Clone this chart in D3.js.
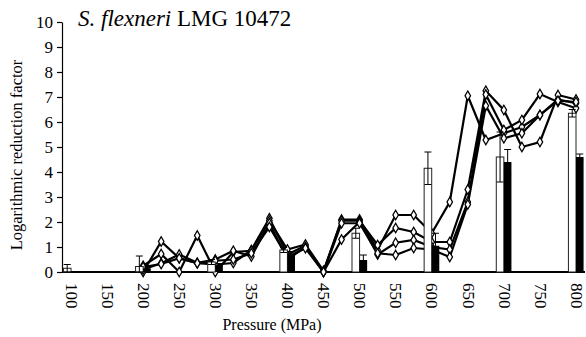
<!DOCTYPE html>
<meta charset="utf-8">
<script src="https://cdn.jsdelivr.net/npm/d3@7"></script>
<body style="margin:0;background:#fff">
<div id="graph"></div>
<script>
    // bar data (pressure, MPa)
    const barPressures = [100, 200, 300, 400, 500, 600, 700, 800];
    const whiteBars = [0.15, 0.22, 0.4, 0.88, 1.55, 4.15, 4.6, 6.35];
    const whiteErr = [0.15, 0.42, 0.1, 0.1, 0.2, 0.65, 1.0, 0.15];
    const blackBars = [0.03, 0.15, 0.28, 0.72, 0.48, 1.05, 4.4, 4.6];
    const blackErr = [0, 0.05, 0.05, 0.1, 0.2, 0.5, 0.5, 0.12];

    // line data
    const linePressures = [200, 225, 250, 275, 300, 325, 350, 375, 400, 425, 450, 475, 500,
        525, 550, 575, 600, 625, 650, 675, 700, 725, 750, 775, 800];
    const series1 = [0.0, 1.22, 0.55, 0.35, 0.3, 0.36, 0.88, 2.15, 0.7, 1.05, 0.0, 2.1, 2.1,
        0.88, 2.28, 2.28, 1.55, 2.8, 7.05, 5.28, 5.55, 5.8, 6.28, 6.9, 6.75];
    const series2 = [0.25, 0.72, 0.0, 1.46, 0.0, 0.8, 0.85, 2.05, 0.9, 1.1, 0.05, 2.05, 2.05,
        1.08, 1.76, 1.6, 1.2, 1.2, 3.3, 7.25, 6.48, 5.0, 5.2, 7.08, 6.9];
    const series3 = [0.1, 0.35, 0.7, 0.37, 0.5, 0.85, 0.62, 1.95, 0.5, 1.0, 0.0, 1.3, 2.0,
        0.7, 1.17, 1.28, 1.0, 0.9, 2.8, 7.1, 5.68, 6.08, 7.12, 6.8, 6.55];
    const series4 = [0.2, 0.32, 0.55, 0.35, 0.45, 0.5, 0.75, 1.8, 0.6, 0.95, 0.0, 1.95, 1.95,
        0.75, 0.68, 0.96, 0.9, 0.6, 2.7, 6.65, 5.35, 5.55, 6.28, 6.85, 6.8];

    const xTicks = [100, 150, 200, 250, 300, 350, 400, 450, 500, 550, 600, 650, 700, 750, 800];
    const yTicks = [0, 1, 2, 3, 4, 5, 6, 7, 8, 9, 10];

    const serif = "Times New Roman";
    const svg = d3.select("#graph").append("svg")
        .attr("width", 586)
        .attr("height", 337);

    const x = d3.scaleLinear().domain([100, 800]).range([71, 576]);
    const y = d3.scaleLinear().domain([0, 10]).range([272, 22]);
    const barW = (x(150) - x(100)) * 0.21;

    // y axis
    const axisY = svg.append("g")
        .attr("transform", "translate(62,0)")
        .call(d3.axisLeft(y).tickValues(yTicks).tickSize(5).tickSizeOuter(0));
    axisY.attr("font-family", serif);
    axisY.select(".domain").attr("stroke", "#000").attr("stroke-width", 1.2);
    axisY.selectAll(".tick line").attr("stroke", "#000").attr("stroke-width", 1.2);
    axisY.selectAll(".tick text")
        .attr("font-size", 17)
        .attr("fill", "#000")
        .attr("x", -9)
        .attr("dy", "0.34em");

    // x axis
    const axisX = svg.append("g")
        .attr("transform", "translate(0,272)")
        .call(d3.axisBottom(x).tickValues(xTicks).tickSize(0).tickSizeOuter(0));
    axisX.attr("font-family", serif);
    axisX.select(".domain").attr("d", `M62,0H585`).attr("stroke", "#000").attr("stroke-width", 1.8);
    axisX.selectAll(".tick text")
        .attr("font-size", 17)
        .attr("fill", "#000")
        .attr("text-anchor", "start")
        .attr("transform", "rotate(90)")
        .attr("x", 11)
        .attr("y", 0)
        .attr("dy", "0.34em");

    // lines
    const line = d3.line()
        .x((d, i) => x(linePressures[i]))
        .y(d => y(d));
    const allSeries = [series1, series2, series3, series4];

    const lines = svg.append("g");
    lines.selectAll("path")
        .data(allSeries)
        .enter().append("path")
        .attr("d", d => line(d))
        .attr("fill", "none")
        .attr("stroke", "#000")
        .attr("stroke-width", 2.2);

    const diamond = d3.symbol().type(d3.symbolDiamond).size(26);
    allSeries.forEach(s => {
        lines.append("g").selectAll("path")
            .data(s)
            .enter().append("path")
            .attr("d", diamond)
            .attr("transform", (d, i) => `translate(${x(linePressures[i])},${y(d)})`)
            .attr("fill", "#fff")
            .attr("stroke", "#000")
            .attr("stroke-width", 1.3);
    });

    // bars over the lines
    const bars = svg.append("g");
    bars.selectAll("rect.white")
        .data(whiteBars)
        .enter().append("rect")
        .attr("class", "white")
        .attr("x", (d, i) => x(barPressures[i]) - barW)
        .attr("y", d => y(d))
        .attr("width", barW)
        .attr("height", d => y(0) - y(d))
        .attr("fill", "#fff")
        .attr("stroke", "#222")
        .attr("stroke-width", 1);

    bars.selectAll("rect.black")
        .data(blackBars)
        .enter().append("rect")
        .attr("class", "black")
        .attr("x", (d, i) => x(barPressures[i]))
        .attr("y", d => y(d))
        .attr("width", barW)
        .attr("height", d => y(0) - y(d))
        .attr("fill", "#000");

    function errorBars(vals, errs, offset) {
        const g = bars.append("g").attr("stroke", "#000").attr("stroke-width", 1);
        vals.forEach((v, i) => {
            if (!errs[i]) return;
            const cx = x(barPressures[i]) + offset,
                top = y(v + errs[i]),
                bot = y(Math.max(0, v - errs[i]));
            g.append("line").attr("x1", cx).attr("x2", cx).attr("y1", top).attr("y2", bot);
            g.append("line").attr("x1", cx - 3.5).attr("x2", cx + 3.5).attr("y1", top).attr("y2", top);
            g.append("line").attr("x1", cx - 3.5).attr("x2", cx + 3.5).attr("y1", bot).attr("y2", bot);
        });
    }
    errorBars(whiteBars, whiteErr, -barW / 2);
    errorBars(blackBars, blackErr, barW / 2);

    // titles
    const title = svg.append("text")
        .attr("x", 78)
        .attr("y", 26)
        .attr("font-family", serif)
        .attr("font-size", 23);
    title.append("tspan").attr("font-style", "italic").text("S. flexneri");
    title.append("tspan").text(" LMG 10472");

    svg.append("text")
        .attr("x", 272)
        .attr("y", 330)
        .attr("text-anchor", "middle")
        .attr("font-family", serif)
        .attr("font-size", 16)
        .text("Pressure (MPa)");

    svg.append("text")
        .attr("transform", "translate(22,155) rotate(-90)")
        .attr("text-anchor", "middle")
        .attr("font-family", serif)
        .attr("font-size", 16.5)
        .text("Logarithmic reduction factor");
</script>
</body>
